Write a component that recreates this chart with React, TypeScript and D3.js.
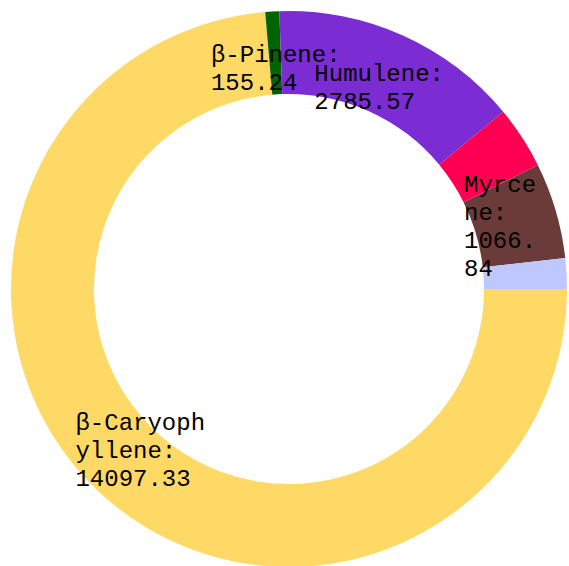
import React from 'react';
import * as d3 from 'd3';

// terpene profile, drawn clockwise from 3 o'clock
const names = ['β-Caryophyllene', 'β-Pinene', 'Humulene', 'Limonene', 'Myrcene', 'Linalool'];
const values = [14097.33, 155.24, 2785.57, 700, 1066.84, 340];
const colors = ['#FFD966', '#006400', '#7B2CD3', '#FF0052', '#6A3B39', '#BFC7FF'];
const labelled = [true, true, true, false, true, false];

interface Slice {
  name: string;
  value: number;
  color: string;
  showLabel: boolean;
}

const slices: Slice[] = names.map((name, i) => ({
  name,
  value: values[i],
  color: colors[i],
  showLabel: labelled[i],
}));

const width = 569;
const height = 566;
const cx = 289;
const cy = 289;
const outerRadius = 278;
const innerRadius = 195;
const labelRadius = 220;
const lineHeight = 28;
const charWidth = 14.4;

// break a label into lines of at most maxChars characters (monospace)
function wrapText(text: string, maxChars: number): string[] {
  const lines: string[] = [];
  for (let i = 0; i < text.length; i += maxChars) {
    lines.push(text.slice(i, i + maxChars));
  }
  return lines;
}

const App: React.FC = () => {
  const pie = d3.pie<Slice>()
    .value(d => d.value)
    .sort(null)
    .startAngle(Math.PI / 2)
    .endAngle(Math.PI / 2 + 2 * Math.PI);

  const arc = d3.arc<d3.PieArcDatum<Slice>>()
    .innerRadius(innerRadius)
    .outerRadius(outerRadius);

  const labelArc = d3.arc<d3.PieArcDatum<Slice>>()
    .innerRadius(labelRadius)
    .outerRadius(labelRadius);

  const arcs = pie(slices);

  return (
    <svg
      width={width}
      height={height}
      style={{ position: 'absolute', left: 0, top: 0, overflow: 'hidden' }}
    >
      <g transform={`translate(${cx},${cy})`}>
        {arcs.map(d => (
          <path key={d.data.name} d={arc(d) || ''} fill={d.data.color} />
        ))}
        {arcs.filter(d => d.data.showLabel).map(d => {
          const [x, y] = labelArc.centroid(d);
          // the slice near the right edge gets a narrower label box
          const maxChars = d.data.name === 'Myrcene' ? 5 : 9;
          const lines = [
            ...wrapText(`${d.data.name}:`, maxChars),
            ...wrapText(d.data.value.toFixed(2), maxChars),
          ];
          const blockWidth = Math.max(...lines.map(l => l.length)) * charWidth;
          const x0 = x - blockWidth / 2;
          const y0 = y - ((lines.length - 1) * lineHeight) / 2 + 7;
          return (
            <text
              key={`label-${d.data.name}`}
              x={x0}
              y={y0}
              fontFamily="'Courier New', 'Liberation Mono', monospace"
              fontSize={24}
              fill="#000"
            >
              {lines.map((line, i) => (
                <tspan key={i} x={x0} y={y0 + i * lineHeight}>{line}</tspan>
              ))}
            </text>
          );
        })}
      </g>
    </svg>
  );
};

export default App;
